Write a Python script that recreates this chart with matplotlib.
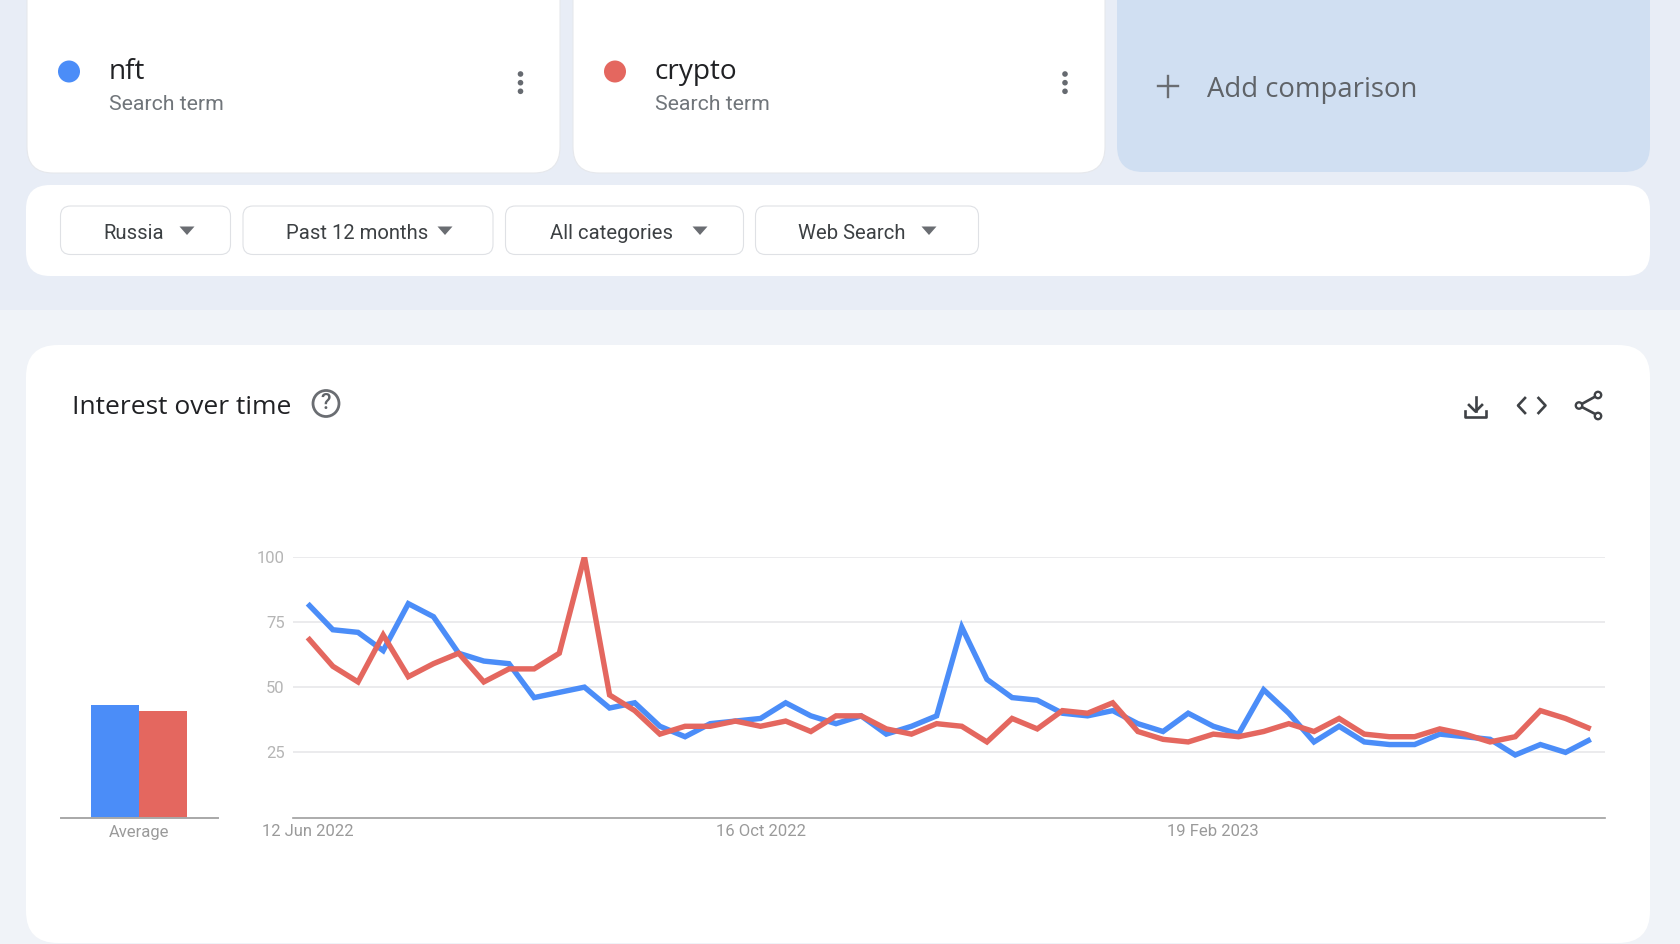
import numpy as np
import matplotlib
matplotlib.use('Agg')
import matplotlib.pyplot as plt
from matplotlib.patches import FancyBboxPatch, Circle, Polygon

W, H = 1680, 944
BLUE = '#4b8df8'
RED = '#e4675f'
SANS = 'Roboto'
HEAD = 'Open Sans'

nft = [82, 72, 71, 64, 82, 77, 63, 60, 59, 46, 48, 50, 42, 44, 35, 31, 36, 37,
       38, 44, 39, 36, 39, 32, 35, 39, 73, 53, 46, 45, 40, 39, 41, 36, 33, 40,
       35, 32, 49, 40, 29, 35, 29, 28, 28, 32, 31, 30, 24, 28, 25, 30]
crypto = [69, 58, 52, 70, 54, 59, 63, 52, 57, 57, 63, 100, 47, 41, 32, 35, 35, 37,
          35, 37, 33, 39, 39, 34, 32, 36, 35, 29, 38, 34, 41, 40, 44, 33, 30, 29,
          32, 31, 33, 36, 33, 38, 32, 31, 31, 34, 32, 29, 31, 41, 38, 34]
averages = [43, 41]
y_ticks = [25, 50, 75, 100]
x_tick_pos = [0, 18, 36]
x_tick_labels = ['12 Jun 2022', '16 Oct 2022', '19 Feb 2023']
filters = ['Russia', 'Past 12 months', 'All categories', 'Web Search']
terms = ['nft', 'crypto']

fig = plt.figure(figsize=(W / 100, H / 100), dpi=100, facecolor='#e8edf6')


def px_axes(x0, y0, x1, y1):
    # y0 is the top edge in image pixels
    return fig.add_axes([x0 / W, 1 - y1 / H, (x1 - x0) / W, (y1 - y0) / H])


# page furniture, drawn in image pixels
ui = fig.add_axes([0, 0, 1, 1])
ui.set_xlim(0, W)
ui.set_ylim(H, 0)
ui.axis('off')


def card(x0, y0, x1, y1, r, fc='white', ec='none', lw=1.0):
    ui.add_patch(FancyBboxPatch((x0 + r, y0 + r), x1 - x0 - 2 * r, y1 - y0 - 2 * r,
                                boxstyle='round,pad=%g,rounding_size=%g' % (r, r),
                                fc=fc, ec=ec, lw=lw))


ui.fill_between([0, W], 310, H, color='#f0f3f8', lw=0)
card(27, -60, 560, 173, 26, ec='#e6e8ec', lw=0.8)
card(573, -60, 1105, 173, 26, ec='#e6e8ec', lw=0.8)
card(1117, -60, 1650, 172, 26, fc='#d0dff2')
card(26, 185, 1650, 276, 24)
card(26, 345, 1650, 943, 32)

# search terms
for term, color, dot_x, text_x, menu_x in zip(terms, [BLUE, RED], [69, 615],
                                              [109, 655], [520.5, 1065]):
    ui.add_patch(Circle((dot_x, 71.5), 11, fc=color, ec='none'))
    ui.text(text_x, 72, term, fontsize=20.2, family=HEAD, color='#202124', va='center')
    ui.text(text_x, 105, 'Search term', fontsize=15.3, family=SANS, color='#70757a',
            va='center')
    for dy in [74, 82.7, 91.3]:
        ui.add_patch(Circle((menu_x, dy), 2.8, fc='#666a70', ec='none'))

# add comparison
ui.plot([1157.5, 1178], [86, 86], color='#6a6d72', lw=1.7)
ui.plot([1167.7, 1167.7], [76, 96.5], color='#6a6d72', lw=1.7)
ui.text(1207, 90, 'Add comparison', fontsize=19.8, family=HEAD, color='#5f6368', va='center',
        fontweight='medium')

# filter dropdowns
chip_x0 = [60.5, 243, 505.5, 755.5]
chip_x1 = [230.5, 493, 743.5, 978.5]
label_x = [103.5, 286, 549.5, 798]
caret_x = [187, 445, 700, 929]
for name, x0, x1, lx, cx in zip(filters, chip_x0, chip_x1, label_x, caret_x):
    card(x0, 206, x1, 254.5, 10, ec='#dfe1e5', lw=0.8)
    ui.text(lx, 233.5, name, fontsize=14.6, family=SANS, color='#3c4043', va='center')
    ui.add_patch(Polygon([(cx - 7.5, 226.5), (cx + 7.5, 226.5), (cx, 235)], fc='#6a6d72', ec='none'))

# title row
ui.text(72, 408, 'Interest over time', fontsize=19, family=HEAD, color='#202124', va='center')
ui.add_patch(Circle((326, 403.5), 13, fc='none', ec='#6a6d72', lw=2))
ui.text(326, 403.5, '?', fontsize=15.5, family=SANS, color='#5f6368', ha='center', va='center',
        fontweight='medium')

# download icon
ic = '#3f4246'
ui.plot([1475.5, 1475.5], [396.5, 411], color=ic, lw=1.9)
ui.plot([1469, 1475.5, 1482], [405, 411.5, 405], color=ic, lw=1.9)
ui.plot([1465, 1465, 1486, 1486], [411, 417, 417, 411], color=ic, lw=1.9)
# embed icon
ui.plot([1525, 1518, 1525], [398, 405.5, 413], color=ic, lw=1.9)
ui.plot([1538.5, 1545.5, 1538.5], [398, 405.5, 413], color=ic, lw=1.9)
# share icon
ui.plot([1599, 1579, 1599], [394.5, 405.5, 416], color=ic, lw=1.9)
for sx, sy in [(1598, 395), (1579, 405.5), (1598, 416)]:
    ui.add_patch(Circle((sx, sy), 3.2, fc='white', ec=ic, lw=1.7, zorder=3))

# average bars
ax_bar = px_axes(60.5, 556.7, 217.5, 817.6)
ax_bar.patch.set_alpha(0)
ax_bar.bar([0, 1], averages, width=1, color=[BLUE, RED])
ax_bar.set_xlim(-1.135, 2.135)
ax_bar.set_ylim(0, 100)
ax_bar.set_yticks([])
ax_bar.set_xticks([0.5])
ax_bar.set_xticklabels(['Average'], fontsize=12, family=SANS, color='#9a9a9a')
ax_bar.tick_params(axis='x', length=0, pad=5)
for s in ['top', 'left', 'right']:
    ax_bar.spines[s].set_visible(False)
ax_bar.spines['bottom'].set_color('#a8a8a8')
ax_bar.spines['bottom'].set_linewidth(1.4)

# interest lines, clipped at the 100 line like the original
ax = px_axes(293, 556.7, 1604.7, 817.6)
ax.patch.set_alpha(0)
weeks = np.arange(len(nft))
step = (1590.7 - 307.7) / (len(nft) - 1)
ax.set_xlim(-(307.7 - 293) / step, (1604.7 - 307.7) / step)
ax.set_ylim(0, 100)
ax.set_yticks(y_ticks)
ax.set_yticklabels([str(v) for v in y_ticks], fontsize=12, family=SANS, color='#b5b5b5')
ax.set_xticks(x_tick_pos)
ax.set_xticklabels(x_tick_labels, fontsize=12, family=SANS, color='#9a9a9a')
ax.tick_params(axis='both', length=0)
ax.tick_params(axis='x', pad=4.5)
ax.tick_params(axis='y', pad=6)
ax.grid(axis='y', color='#e5e5e8', lw=1.1)
ax.set_axisbelow(True)
for s in ['top', 'left', 'right']:
    ax.spines[s].set_visible(False)
ax.spines['bottom'].set_color('#9e9e9e')
ax.spines['bottom'].set_linewidth(1.2)
ax.plot(weeks, nft, color=BLUE, lw=3.9, solid_joinstyle='miter', solid_capstyle='butt')
ax.plot(weeks, crypto, color=RED, lw=3.9, solid_joinstyle='miter', solid_capstyle='butt')

fig.savefig('out.png', dpi=100, facecolor=fig.get_facecolor())
